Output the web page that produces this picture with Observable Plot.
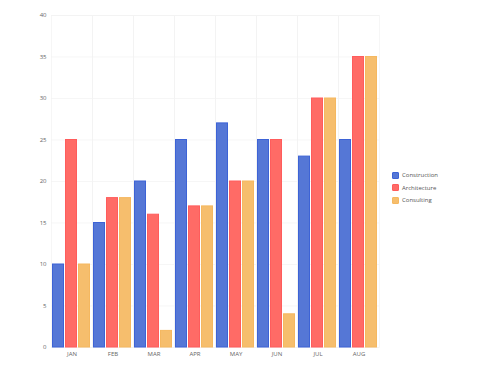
<!DOCTYPE html>
<html>
<head>
<meta charset="utf-8">
<script src="https://cdn.jsdelivr.net/npm/d3@7"></script>
<script src="https://cdn.jsdelivr.net/npm/@observablehq/plot@0.6"></script>
<style>
  html, body { margin: 0; padding: 0; background: #fff; }
  #wrap { position: relative; width: 500px; height: 369px; font-family: "Open Sans", sans-serif; }
  #legend { position: absolute; left: 392px; top: 169px; font-size: 6px; color: #555; }
  .item { display: flex; align-items: center; height: 12.5px; }
  .sw { width: 7px; height: 7px; margin-right: 3px; box-sizing: border-box; border-radius: 1px; }
</style>
</head>
<body>
<div id="wrap"><div id="legend"></div></div>
<script>
const months = ["JAN", "FEB", "MAR", "APR", "MAY", "JUN", "JUL", "AUG"];
const seriesNames = ["Construction", "Architecture", "Consulting"];
const construction = [10, 15, 20, 25, 27, 25, 23, 25];
const architecture = [25, 18, 16, 17, 20, 25, 30, 35];
const consulting = [10, 18, 2, 17, 20, 4, 30, 35];
const fills = ["#5577d6", "#ff6b66", "#f6be6d"];
const strokes = ["#3d63d6", "#ff5c5c", "#f5b860"];
const yTicks = [0, 5, 10, 15, 20, 25, 30, 35, 40];

const values = [construction, architecture, consulting];
const data = [];
months.forEach((m, i) => {
  seriesNames.forEach((s, j) => data.push({ month: m, series: s, value: values[j][i] }));
});

const chart = Plot.plot({
  width: 500,
  height: 369,
  marginLeft: 50,
  marginRight: 120,
  marginTop: 15,
  marginBottom: 22,
  style: { fontFamily: "Open Sans, sans-serif", fontSize: "6px", color: "#666", background: "transparent" },
  fx: { domain: months, paddingInner: 0, paddingOuter: 0, label: null, tickSize: 0, tickPadding: 4 },
  x: { domain: seriesNames, paddingInner: 0.04, paddingOuter: 0.05, axis: null },
  y: { domain: [0, 40], ticks: yTicks, label: null, tickSize: 0, tickPadding: 5, tickFormat: d => d },
  color: { domain: seriesNames, range: fills },
  marks: [
    Plot.frame({ stroke: "#f2f2f2", strokeWidth: 0.7 }),
    Plot.ruleY(yTicks, { stroke: "#f2f2f2", strokeWidth: 0.7 }),
    Plot.barY(data, {
      fx: "month",
      x: "series",
      y: "value",
      fill: "series",
      stroke: d => strokes[seriesNames.indexOf(d.series)],
      strokeWidth: 1,
      insetLeft: 0.5,
      insetRight: 0.5
    })
  ]
});
document.getElementById("wrap").prepend(chart);

const legend = document.getElementById("legend");
seriesNames.forEach((s, j) => {
  const it = document.createElement("div");
  it.className = "item";
  const sw = document.createElement("div");
  sw.className = "sw";
  sw.style.background = fills[j];
  sw.style.border = "1px solid " + strokes[j];
  const t = document.createElement("span");
  t.textContent = s;
  it.appendChild(sw);
  it.appendChild(t);
  legend.appendChild(it);
});
</script>
</body>
</html>
